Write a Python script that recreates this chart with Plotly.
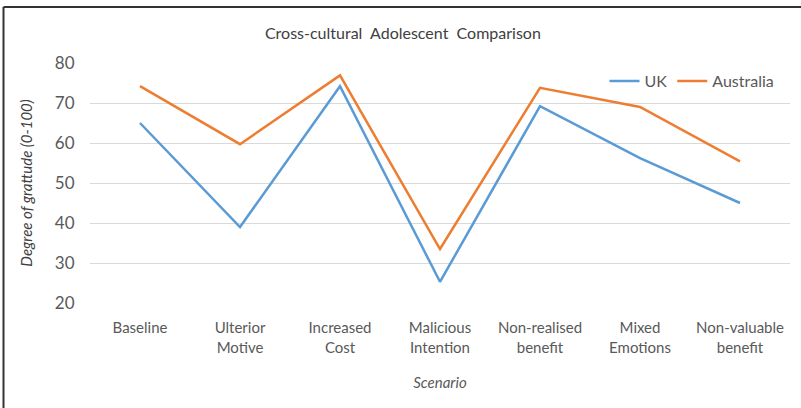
import plotly.graph_objects as go

categories = ["Baseline", "Ulterior<br>Motive", "Increased<br>Cost", "Malicious<br>Intention",
              "Non-realised<br>benefit", "Mixed<br>Emotions", "Non-valuable<br>benefit"]
uk_values = [65, 39, 74.2, 25.3, 69.2, 56.2, 45]
aus_values = [74.2, 59.7, 76.9, 33.5, 73.8, 69, 55.4]
y_ticks = [20, 30, 40, 50, 60, 70, 80]

FONT = "Lato, Liberation Sans, sans-serif"
GREY = "#595959"

fig = go.Figure()
fig.add_trace(go.Scatter(x=categories, y=uk_values, mode="lines", name="UK",
                         line=dict(color="#5B9BD5", width=2.5)))
fig.add_trace(go.Scatter(x=categories, y=aus_values, mode="lines", name="Australia",
                         line=dict(color="#ED7D31", width=2.5)))

fig.update_layout(
    width=801, height=408,
    margin=dict(l=90, r=11, t=63, b=105),
    paper_bgcolor="white", plot_bgcolor="white",
    font=dict(family=FONT, color=GREY, size=15),
    title=dict(text="Cross-cultural  Adolescent  Comparison", x=0.503, xanchor="center",
               y=1 - 33 / 408, yanchor="middle",
               font=dict(family=FONT, size=16, color="#404040")),
    showlegend=True,
    legend=dict(orientation="h", x=0.735, y=0.925, xanchor="left", yanchor="middle",
                bgcolor="rgba(0,0,0,0)", font=dict(size=16, color=GREY),
                itemwidth=30, tracegroupgap=0),
    xaxis=dict(type="category", range=[-0.5, 6.5], showgrid=False, zeroline=False,
               showline=False, ticks="outside", ticklen=11, tickcolor="rgba(0,0,0,0)",
               tickfont=dict(size=15, color=GREY),
               title=dict(text="<i>Scenario</i>", font=dict(size=15, color=GREY), standoff=22)),
    yaxis=dict(range=[20, 80], tickvals=y_ticks, showgrid=True, gridcolor="#d9d9d9",
               gridwidth=1, zeroline=False, showline=False, ticks="outside", ticklen=11,
               tickcolor="rgba(0,0,0,0)", tickfont=dict(size=17, color=GREY),
               title=dict(text="<i>Degree of grattude (0-100)</i>",
                          font=dict(size=15, color="#404040"), standoff=18)),
)

# outer frame (left and top edges of the image border)
fig.add_shape(type="line", xref="paper", yref="paper",
              x0=(3.5 - 90) / 700, x1=(3.5 - 90) / 700, y0=(303 - 410) / 240, y1=(303 - 7) / 240,
              line=dict(color="#333333", width=2))
fig.add_shape(type="line", xref="paper", yref="paper",
              x0=(3.5 - 90) / 700, x1=(803 - 90) / 700, y0=(303 - 7) / 240, y1=(303 - 7) / 240,
              line=dict(color="#333333", width=2))

fig.write_html("out.html", config={"displayModeBar": False},
               post_script="document.body.style.margin='0';document.body.style.overflow='hidden';")
